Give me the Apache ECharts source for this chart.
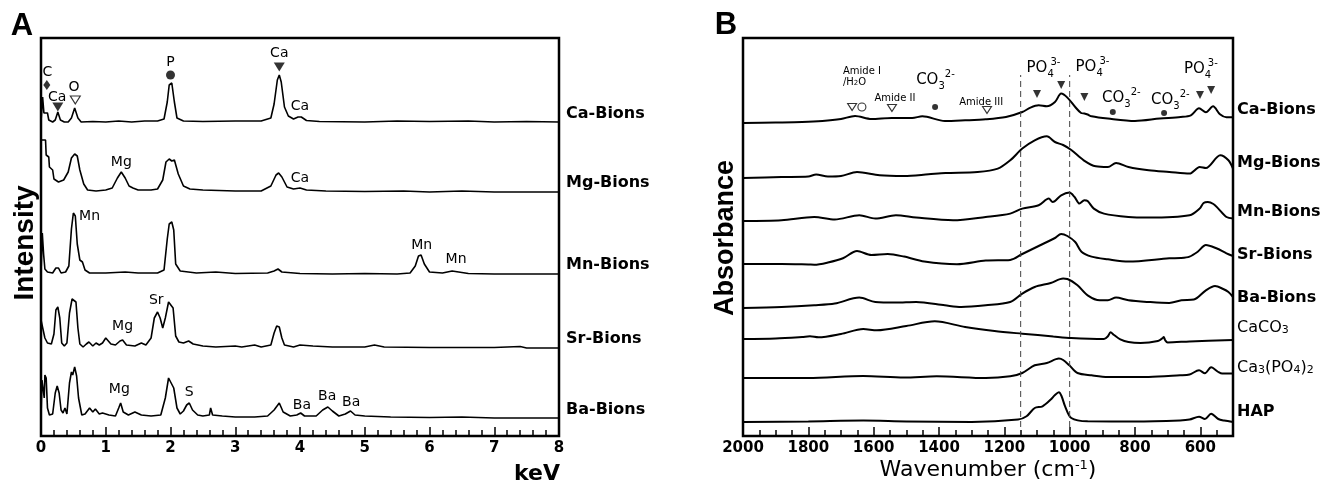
<!DOCTYPE html>
<html><head><meta charset="utf-8">
<script src="https://cdn.jsdelivr.net/npm/echarts@6/dist/echarts.min.js"></script>
<style>html,body{margin:0;padding:0;background:#fff}#c{width:1336px;height:490px}</style>
</head><body><div id="c"></div><script>
// ---------------- DATA: panel A (EDS, keV vs intensity above each trace's baseline) ----------------
const edsNames = ['Ca-Bions','Mg-Bions','Mn-Bions','Sr-Bions','Ba-Bions'];
const edsOffsets = [314, 244, 162, 88, 18];
const edsTicks = [0,1,2,3,4,5,6,7,8];
const edsCa = [[0,0],[0.02,0],[0.025,25],[0.04,25],[0.045,9],[0.1,9],[0.12,2],[0.18,0],[0.22,2],[0.26,10],[0.3,2],[0.36,0],[0.42,0],[0.47,4],[0.52,14],[0.57,4],[0.62,0],[0.8,0.5],[1.0,0],[1.2,1],[1.4,0],[1.6,1],[1.8,1],[1.9,3],[1.95,20],[1.98,37],[2.02,39],[2.06,20],[2.1,4],[2.2,1],[2.5,0.5],[3.0,1],[3.4,1],[3.55,4],[3.6,18],[3.65,42],[3.68,47],[3.71,40],[3.76,15],[3.82,6],[3.9,3],[3.97,5],[4.02,5],[4.1,1.5],[4.3,0.5],[5,0],[5.5,1],[6,0.5],[6.6,1],[7,0],[7.5,0.5],[8,0]];
const edsMg = [[0,52],[0.07,52],[0.08,37],[0.12,35],[0.13,25],[0.18,22],[0.2,13],[0.27,10],[0.3,8],[0.35,12],[0.42,20],[0.47,34],[0.52,38],[0.56,36],[0.6,22],[0.66,8],[0.72,2],[0.85,1],[1.0,2],[1.1,4],[1.18,14],[1.24,20],[1.3,14],[1.36,6],[1.42,4],[1.5,2],[1.7,2],[1.8,3],[1.88,12],[1.93,30],[1.98,33],[2.02,31],[2.06,32],[2.12,18],[2.2,6],[2.3,3],[2.5,2],[3.0,1],[3.4,1],[3.55,6],[3.63,17],[3.67,19],[3.72,15],[3.8,5],[3.9,3],[4.0,4],[4.1,2],[4.4,1],[5,0.5],[5.6,1],[6,0],[6.5,1],[7,0],[7.9,0],[8,0]];
const edsMn = [[0,0],[0.015,0],[0.02,41],[0.035,41],[0.04,20],[0.06,5],[0.1,2],[0.18,1],[0.23,6],[0.27,6],[0.31,1],[0.38,2],[0.43,8],[0.47,45],[0.5,61],[0.53,58],[0.56,30],[0.6,14],[0.64,12],[0.68,4],[0.75,1],[1.0,1],[1.3,2],[1.5,1],[1.8,1],[1.9,4],[1.95,35],[1.98,50],[2.02,52],[2.05,44],[2.08,10],[2.15,3],[2.4,1],[2.7,2],[3.0,0.5],[3.5,1],[3.6,3],[3.66,5],[3.72,2],[4,0.5],[4.5,0],[5,0.5],[5.5,0],[5.7,1],[5.78,8],[5.83,18],[5.87,19],[5.92,10],[6.0,2],[6.2,1],[6.35,3],[6.45,2],[6.6,0.5],[7,0],[8,0]];
const edsSr = [[0,28],[0.03,28],[0.06,10],[0.1,5],[0.16,4],[0.2,14],[0.23,38],[0.26,41],[0.29,30],[0.32,5],[0.36,2],[0.4,5],[0.44,35],[0.48,49],[0.51,51],[0.54,46],[0.57,20],[0.6,4],[0.65,1],[0.7,4],[0.74,6],[0.8,2],[0.85,5],[0.9,3],[0.95,5],[1.0,10],[1.03,11],[1.08,4],[1.15,3],[1.22,7],[1.26,8],[1.32,3],[1.45,2],[1.55,5],[1.62,3],[1.7,10],[1.75,30],[1.8,36],[1.84,30],[1.88,20],[1.92,30],[1.97,46],[2.0,47],[2.04,40],[2.08,12],[2.13,6],[2.2,5],[2.28,7],[2.35,4],[2.5,2],[2.7,1],[3.0,2],[3.1,1],[3.3,3],[3.4,1],[3.55,3],[3.6,15],[3.64,22],[3.68,21],[3.72,10],[3.76,3],[3.9,1],[4.0,3],[4.2,2],[4.5,1],[5.0,1],[5.15,3],[5.3,1],[6,0.5],[7,0.5],[7.4,1.5],[7.5,0],[8,0]];
const edsBa = [[0,0],[0.01,0],[0.015,38],[0.03,36],[0.05,20],[0.06,43],[0.08,40],[0.1,10],[0.13,3],[0.18,4],[0.22,25],[0.25,32],[0.28,25],[0.31,8],[0.34,5],[0.37,10],[0.4,4],[0.44,35],[0.47,46],[0.49,43],[0.52,51],[0.55,42],[0.58,20],[0.63,3],[0.68,4],[0.75,10],[0.8,6],[0.84,9],[0.9,4],[0.95,5],[1.0,4],[1.05,3],[1.15,2],[1.2,10],[1.23,15],[1.27,6],[1.35,3],[1.45,6],[1.55,3],[1.7,2],[1.85,3],[1.92,20],[1.97,40],[2.0,41],[2.05,30],[2.1,10],[2.15,4],[2.2,7],[2.25,13],[2.29,15],[2.34,8],[2.42,3],[2.5,2],[2.6,3],[2.62,10],[2.65,3],[2.8,2],[3.0,1],[3.3,1],[3.5,2],[3.6,8],[3.68,15],[3.74,6],[3.85,2],[3.95,3],[4.01,5],[4.07,2],[4.25,2],[4.35,8],[4.43,11],[4.5,7],[4.6,2],[4.7,4],[4.78,7],[4.85,3],[5.0,2],[5.4,1],[6.0,0.5],[6.5,1],[7,0],[8,0]];
// annotations panel A
const edsAnnoText = ['C','Ca','O','P','Ca','Ca','Mg','Ca','Mn','Mn','Mn','Mg','Sr','Mg','S','Ba','Ba','Ba'];
const edsAnnoX = [0.097,0.25,0.51,2.0,3.68,4.0,1.24,4.0,0.75,5.88,6.41,1.26,1.78,1.21,2.29,4.03,4.42,4.79];
const edsAnnoY = [364,339,349,374,383,330,274,258,220,191,177,110,136,47,44,31,40,34];
const edsDownFilled = [[0.26,329],[3.68,369]];
const edsDownOpen = [[0.53,336]];
const edsCircleFilled = [[2.0,361]];
const edsDiamond = [[0.09,351]];

// ---------------- DATA: panel B (FTIR, wavenumber vs absorbance above baseline) ----------------
const ftirNames = ['Ca-Bions','Mg-Bions','Mn-Bions','Sr-Bions','Ba-Bions','CaCO{s|3}','Ca{s|3}(PO{s|4}){s|2}','HAP'];
const ftirOffsets = [313, 258, 215, 172, 128, 97, 58, 14];
const ftirTicks = [2000,1800,1600,1400,1200,1000,800,600];
const ftirCa = [[2000,0],[1900,0.5],[1819,1],[1757,2],[1700,4],[1657,7],[1607,4],[1545,5],[1482,5],[1451,6.7],[1382,2],[1320,2.7],[1257,3.7],[1195,6],[1145,11],[1120,15.4],[1095,17.7],[1070,16.7],[1045,21],[1026,29.4],[1007,25.4],[983,16],[965,10],[955,9.5],[945,8.5],[933,6.7],[883,4.4],[800,2],[724,4.4],[660,6],[629,7.7],[604,14.7],[583,10.7],[561,16.7],[540,8.7],[520,5.7],[500,5.7]];
const ftirMg = [[2000,0],[1882,1],[1800,1.5],[1776,3.4],[1740,1.5],[1700,2],[1651,6],[1582,2.7],[1507,2],[1432,3.7],[1380,5],[1282,6],[1220,9.4],[1182,17.7],[1145,29.4],[1107,37.7],[1070,41.7],[1045,36],[1020,33],[995,28],[957,17.7],[920,11.7],[883,11],[858,15],[820,11],[758,7.7],[695,6],[633,4.4],[602,11],[583,10],[539,22.7],[514,17.7],[500,9.4]];
const ftirMn = [[2000,0],[1882,0.7],[1782,4],[1719,1.5],[1644,5.7],[1595,2.5],[1532,5.7],[1470,3.4],[1357,0.7],[1257,4],[1182,7.4],[1145,12.4],[1095,15.7],[1064,22.4],[1052,19],[1026,25.7],[1001,28.4],[985,24],[970,17.4],[955,20.7],[945,20],[926,12.4],[895,7.4],[820,4],[758,3.4],[633,5.7],[602,12.4],[590,18],[577,19],[560,17],[545,12.4],[520,4],[500,2.4]];
const ftirSr = [[2000,0],[1882,0],[1800,-0.5],[1782,-0.7],[1740,1.5],[1694,5.7],[1651,13],[1607,9],[1557,10],[1507,7.4],[1445,2.4],[1345,-0.3],[1257,3.4],[1182,4],[1145,10],[1095,18],[1045,26],[1026,30],[1007,28],[983,22],[964,12.3],[933,7.4],[883,4.7],[820,2.4],[695,5.7],[660,6],[633,7.4],[608,12.3],[583,19],[551,15.7],[520,10.7],[500,8]];
const ftirBa = [[2000,0],[1882,1],[1782,2.7],[1719,4.4],[1644,10.4],[1595,6],[1532,5.4],[1470,6],[1382,2.7],[1332,1],[1257,2.7],[1182,6],[1145,14.4],[1107,21],[1058,25],[1020,29.4],[1007,29],[976,22.7],[945,12.7],[908,7.7],[883,7.7],[858,10.4],[820,7.7],[758,6],[695,5],[658,7.7],[620,8.4],[583,17.7],[555,22],[530,19],[514,16],[500,11]];
const ftirCaCO3 = [[2000,0],[1900,0.5],[1819,2],[1795,2.7],[1769,1.7],[1700,5],[1632,10],[1590,8.7],[1500,13],[1413,17.7],[1320,12],[1230,8],[1145,5.3],[1050,2.5],[995,1],[895,0],[883,2.7],[875,6.7],[864,4],[845,-0.3],[820,-3],[783,-4],[730,-2],[715,1],[712,2],[708,-1],[700,-3.4],[633,-2.4],[500,-1]];
const ftirTCP = [[2000,0],[1800,0],[1632,2],[1507,0.4],[1407,1.7],[1257,0],[1182,1.7],[1145,5],[1107,12.7],[1070,15],[1033,19.4],[1020,18],[1001,12.7],[976,5],[933,2.7],[883,1],[758,1],[662,2.7],[633,3.5],[604,7.7],[586,4.7],[567,10.7],[545,6],[533,4.4],[500,4.4]];
const ftirHAP = [[2000,0],[1800,0.5],[1632,1.4],[1500,0.5],[1300,0],[1158,2.4],[1132,5.7],[1107,14],[1083,15.7],[1058,22.4],[1045,27],[1033,29.7],[1025,26],[1014,15.7],[995,4],[945,0.7],[800,0.5],[662,1.5],[633,2.4],[604,5.3],[586,3],[567,8.3],[545,3],[527,1.4],[500,0]];
const dashWavenumbers = [1150, 1000];
const dashSpan = [9, 361];
const ftirDownFilled = [[1100,342],[1026,351],[955,339],[601,341],[567,346]];
const ftirDownOpen = [[1666,329],[1544,328],[1253,326]];
const ftirCircleOpen = [[1636,329]];
const ftirCircleFilled = [[1412,329],[868,324],[711,323]];
// annotation texts panel B
const ftirAnnoText = ['Amide I','/H{s|2}O','Amide II','Amide III'];
const ftirAnnoX = [1694,1694,1535,1271];
const ftirAnnoY = [365,354,338,334];
const ionText = ['{m|CO}{b|3}{p|2-}','{m|PO}{q|4}{p|3-}','{m|PO}{q|4}{p|3-}','{m|CO}{b|3}{p|2-}','{m|CO}{b|3}{p|2-}','{m|PO}{q|4}{p|3-}'];
const ionX = [1470,1132,982,901,751,650];
const ionY = [356,368,369,338,336,367];

// ---------------- CHART ----------------
const F = "'DejaVu Sans', sans-serif";
const FA = "'Liberation Sans', Arial, sans-serif";
const chart = echarts.init(document.getElementById('c'));
const edsSpectra = [edsCa, edsMg, edsMn, edsSr, edsBa];
const ftirSpectra = [ftirCa, ftirMg, ftirMn, ftirSr, ftirBa, ftirCaCO3, ftirTCP, ftirHAP];

const series = [];
edsSpectra.forEach((s, i) => series.push({
  type: 'line', xAxisIndex: 0, yAxisIndex: 0, symbol: 'none', silent: true,
  data: s.map(p => [p[0], edsOffsets[i] + p[1]]),
  lineStyle: { color: '#000', width: 1.6 }
}));
ftirSpectra.forEach((s, i) => series.push({
  type: 'line', xAxisIndex: 1, yAxisIndex: 1, symbol: 'none', silent: true, smooth: 0.3,
  data: s.map(p => [-p[0], ftirOffsets[i] + p[1]]),
  lineStyle: { color: '#000', width: 2 }
}));
dashWavenumbers.forEach(w => series.push({
  type: 'line', xAxisIndex: 1, yAxisIndex: 1, symbol: 'none', silent: true,
  data: dashSpan.map(v => [-w, v]),
  lineStyle: { color: '#444', width: 1, type: [6, 4] }
}));
function mk(data, xi, yi, neg, symbol, size, filled, rot) {
  series.push({
    type: 'scatter', xAxisIndex: xi, yAxisIndex: yi, silent: true, symbol, symbolSize: size,
    symbolRotate: rot || 0,
    data: data.map(p => [neg ? -p[0] : p[0], p[1]]),
    itemStyle: filled ? { color: '#000' } : { color: '#fff', borderColor: '#000', borderWidth: 1.1 }
  });
}
mk(edsDownFilled, 0, 0, false, 'triangle', [11, 9], true, 180);
mk(edsDownOpen, 0, 0, false, 'triangle', [10, 8], false, 180);
mk(edsCircleFilled, 0, 0, false, 'circle', 9, true);
mk(edsDiamond, 0, 0, false, 'diamond', [7, 10], true);
mk(ftirDownFilled, 1, 1, true, 'triangle', [8, 8], true, 180);
mk(ftirDownOpen, 1, 1, true, 'triangle', [9, 7], false, 180);
mk(ftirCircleOpen, 1, 1, true, 'circle', 8, false);
mk(ftirCircleFilled, 1, 1, true, 'circle', 6, true);

const tickStyle = { color: '#000', width: 1.5 };
const labStyle = { color: '#000', fontFamily: F, fontWeight: 'bold', fontSize: 15, margin: 5 };
chart.setOption({
  animation: false,
  backgroundColor: '#fff',
  grid: [
    { left: 41, right: 777, top: 38, bottom: 54, show: true, borderColor: '#000', borderWidth: 2.5, outerBoundsMode: 'none', containLabel: false },
    { left: 743, right: 103, top: 38, bottom: 54, show: true, borderColor: '#000', borderWidth: 2.5, outerBoundsMode: 'none', containLabel: false }
  ],
  xAxis: [
    { type: 'value', gridIndex: 0, position: 'bottom', min: 0, max: 8, interval: 1,
      axisLine: { show: false, onZero: false }, splitLine: { show: false },
      axisTick: { show: true, inside: true, length: 9, lineStyle: tickStyle },
      minorTick: { show: true, splitNumber: 5, length: 6, lineStyle: tickStyle },
      minorSplitLine: { show: false },
      axisLabel: Object.assign({ formatter: v => edsTicks.includes(v) ? String(v) : '' }, labStyle) },
    { type: 'value', gridIndex: 1, position: 'bottom', min: -2000, max: -500, interval: 50,
      axisLine: { show: false, onZero: false }, splitLine: { show: false },
      axisTick: { show: true, inside: true, length: 6, lineStyle: tickStyle },
      axisLabel: { show: false } },
    { type: 'value', gridIndex: 1, position: 'bottom', min: -2000, max: -500, interval: 200,
      axisLine: { show: false, onZero: false }, splitLine: { show: false },
      axisTick: { show: true, inside: true, length: 9, lineStyle: tickStyle },
      axisLabel: Object.assign({ formatter: v => ftirTicks.includes(-v) ? String(-v) : '' }, labStyle) }
  ],
  yAxis: [
    { type: 'value', gridIndex: 0, min: 0, max: 398, show: false },
    { type: 'value', gridIndex: 1, min: 0, max: 398, show: false }
  ],
  series
});

// ---------------- TEXT (positioned through the axes) ----------------
const pA = (x, y) => chart.convertToPixel({ seriesIndex: 0 }, [x, y]);
const pB = (w, y) => chart.convertToPixel({ seriesIndex: 5 }, [-w, y]);
function T(x, y, text, o) {
  o = o || {};
  return { type: 'text', x, y, rotation: o.rot || 0, silent: true, z: 100,
    style: { text, fill: '#000', fontFamily: o.ff || F, fontSize: o.fs || 14, fontWeight: o.fw || 'normal',
      align: o.align || 'center', verticalAlign: 'middle', rich: o.rich } };
}
const g = [];
g.push(T(22, 26, 'A', { fs: 31, fw: 'bold', ff: FA }));
g.push(T(726, 25, 'B', { fs: 31, fw: 'bold', ff: FA }));
g.push(T(25, 243, 'Intensity', { fs: 28, fw: 'bold', ff: FA, rot: Math.PI / 2 }));
g.push(T(726, 238, 'Absorbance', { fs: 27, fw: 'bold', ff: FA, rot: Math.PI / 2 }));
let q = pA(8, -38);
g.push(T(q[0] + 1, q[1], 'keV', { fs: 22, fw: 'bold', align: 'right' }));
q = pB(1250, -34);
g.push(T(q[0], q[1], 'Wavenumber (cm{u|-1})', { fs: 22,
  rich: { u: { fontFamily: F, fontSize: 13, verticalAlign: 'top', lineHeight: 13 } } }));

const labY_A = [322, 253, 171, 97, 26];
edsNames.forEach((n, i) => { const p = pA(8, labY_A[i]); g.push(T(p[0] + 7, p[1], n, { fs: 16, fw: 'bold', align: 'left' })); });
const labY_B = [326, 273, 224, 181, 138, 108, 68, 24];
const labW_B = ['bold','bold','bold','bold','bold','normal','normal','bold'];
ftirNames.forEach((n, i) => {
  const p = pB(500, labY_B[i]);
  g.push(T(p[0] + 4, p[1], n, { fs: 16, fw: labW_B[i], align: 'left',
    rich: { s: { fontFamily: F, fontSize: 11, fontWeight: labW_B[i], verticalAlign: 'bottom', lineHeight: 12 } } }));
});
edsAnnoText.forEach((t, i) => { const p = pA(edsAnnoX[i], edsAnnoY[i]); g.push(T(p[0], p[1], t, { fs: 14 })); });
ftirAnnoText.forEach((t, i) => {
  const p = pB(ftirAnnoX[i], ftirAnnoY[i]);
  g.push(T(p[0], p[1], t, { fs: 10, align: i < 2 ? 'left' : 'center',
    rich: { s: { fontFamily: F, fontSize: 7, verticalAlign: 'bottom', lineHeight: 8 } } }));
});
const ionRich = {
  m: { fontFamily: F, fontSize: 15, lineHeight: 22 },
  b: { fontFamily: F, fontSize: 10, lineHeight: 12, verticalAlign: 'bottom' },
  q: { fontFamily: F, fontSize: 10, lineHeight: 12, verticalAlign: 'bottom', width: 3 },
  p: { fontFamily: F, fontSize: 10, lineHeight: 12, verticalAlign: 'top' }
};
ionText.forEach((t, i) => { const p = pB(ionX[i], ionY[i]); g.push(T(p[0], p[1], t, { align: 'left', rich: ionRich })); });
chart.setOption({ graphic: g });
</script></body></html>
